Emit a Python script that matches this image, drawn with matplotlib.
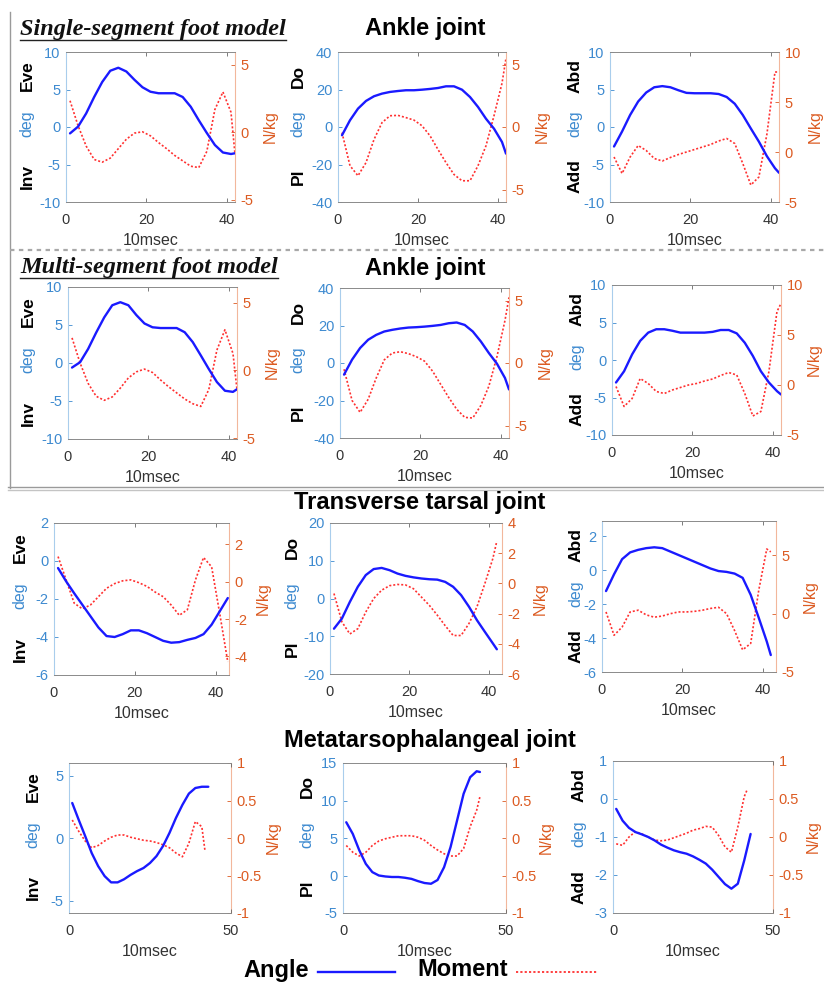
import matplotlib

matplotlib.use("Agg")
import matplotlib.pyplot as plt
from matplotlib.lines import Line2D

plt.rcParams.update(
    {
        "font.family": ["Liberation Sans", "DejaVu Sans"],
        "font.size": 10.5,
        "axes.unicode_minus": False,
    }
)

W, H = 824, 985

# ---- data ----
frames = [1, 3, 5, 7, 9, 11, 13, 15, 17, 19, 21, 23, 25, 27, 29, 31, 33, 35, 37, 39, 41, 42]
frames_43 = [1, 3, 5, 7, 9, 11, 13, 15, 17, 19, 21, 23, 25, 27, 29, 31, 33, 35, 37, 39, 41, 43]

ss_inv_angle = [-0.85, 0.05, 1.8, 4.0, 6.0, 7.5, 7.9, 7.4, 6.3, 5.3, 4.7, 4.5, 4.5, 4.5, 4.0, 2.7, 0.9, -0.8, -2.4, -3.4, -3.6, -3.5]
ss_inv_moment = [2.35, 0.5, -1.0, -2.0, -2.2, -1.9, -1.2, -0.5, -0.05, 0.05, -0.25, -0.75, -1.2, -1.7, -2.1, -2.5, -2.6, -1.4, 1.7, 3.0, 1.5, -1.6]
ss_pf_angle = [-4.4, 3.6, 9.8, 13.9, 16.4, 17.8, 18.7, 19.2, 19.6, 19.6, 19.9, 20.3, 20.8, 21.7, 21.7, 19.9, 16.0, 10.7, 4.4, -0.9, -8.0, -14.2]
ss_pf_moment = [-0.45, -3.1, -3.9, -2.85, -1.0, 0.35, 0.9, 0.93, 0.75, 0.55, 0.1, -0.7, -1.8, -2.85, -3.8, -4.3, -4.3, -3.1, -1.5, 0.9, 3.5, 5.5]
ss_abd_angle = [-2.6, -0.6, 1.6, 3.4, 4.6, 5.3, 5.45, 5.3, 4.9, 4.55, 4.5, 4.5, 4.5, 4.4, 4.0, 3.1, 1.6, -0.2, -1.95, -3.9, -5.5, -6.1]
ss_abd_moment = [-0.5, -2.15, -0.5, 0.65, 0.15, -0.65, -0.9, -0.55, -0.25, 0.0, 0.25, 0.5, 0.75, 1.1, 1.35, 0.85, -1.15, -3.3, -2.5, 1.8, 8.0, 8.0]

ms_inv_angle = [-0.6, 0.1, 1.85, 4.0, 6.0, 7.6, 8.0, 7.6, 6.3, 5.2, 4.7, 4.6, 4.6, 4.6, 4.05, 2.75, 1.0, -0.8, -2.5, -3.65, -3.8, -3.45]
ms_inv_moment = [2.4, 0.55, -0.95, -1.9, -2.2, -1.95, -1.3, -0.55, -0.1, 0.1, -0.15, -0.7, -1.2, -1.65, -2.1, -2.45, -2.65, -1.4, 1.5, 3.0, 1.25, -1.4]
ms_pf_angle = [-6.2, 1.8, 8.0, 12.4, 15.0, 16.8, 17.7, 18.4, 18.9, 19.1, 19.4, 19.8, 20.3, 21.2, 21.6, 20.3, 16.8, 11.5, 5.3, -0.35, -8.0, -14.1]
ms_pf_moment = [-0.5, -3.0, -3.95, -2.9, -1.2, 0.25, 0.8, 0.9, 0.75, 0.5, 0.15, -0.65, -1.7, -2.75, -3.7, -4.35, -4.4, -3.4, -1.85, 0.5, 3.4, 5.25]
ms_abd_angle = [-3.0, -1.5, 0.75, 2.55, 3.65, 4.1, 4.1, 3.9, 3.65, 3.65, 3.65, 3.65, 3.75, 4.0, 4.0, 3.55, 2.3, 0.55, -1.5, -3.0, -4.15, -4.6]
ms_abd_moment = [-0.15, -2.15, -1.35, 0.65, 0.15, -0.65, -0.85, -0.5, -0.25, 0.0, 0.15, 0.4, 0.6, 0.95, 1.25, 1.0, -0.85, -3.1, -2.65, 1.35, 7.35, 8.15]

tt_inv_angle = [-0.37, -1.07, -1.7, -2.3, -2.9, -3.5, -3.95, -4.0, -3.85, -3.65, -3.65, -3.8, -4.0, -4.2, -4.3, -4.27, -4.15, -4.05, -3.85, -3.35, -2.65, -1.95]
tt_inv_moment = [1.35, 0.1, -1.15, -1.45, -1.25, -0.8, -0.35, -0.1, 0.05, 0.1, -0.05, -0.25, -0.55, -0.8, -1.25, -1.8, -1.5, 0.1, 1.3, 0.8, -1.7, -4.3]
tt_pf_angle = [-8.0, -5.3, -0.9, 3.1, 6.2, 7.8, 8.1, 7.5, 6.6, 6.0, 5.6, 5.3, 5.1, 5.0, 4.4, 3.1, 0.9, -2.2, -5.75, -8.85, -11.9, -13.45]
tt_pf_moment = [-0.67, -2.55, -3.35, -3.0, -1.9, -1.0, -0.45, -0.15, -0.07, -0.1, -0.35, -0.9, -1.45, -2.1, -2.8, -3.45, -3.45, -2.65, -1.55, 0.0, 1.65, 2.8]
tt_abd_angle = [-1.23, -0.24, 0.65, 1.05, 1.2, 1.3, 1.35, 1.3, 1.1, 0.9, 0.7, 0.5, 0.3, 0.1, -0.05, -0.1, -0.2, -0.45, -1.45, -2.8, -4.2, -5.0]
tt_abd_moment = [0.15, -1.85, -1.15, 0.15, 0.3, -0.1, -0.3, -0.2, 0.0, 0.15, 0.15, 0.2, 0.3, 0.45, 0.55, 0.0, -1.45, -3.1, -2.55, 2.0, 5.55, 5.3]

mtp_inv_angle = [2.8, 1.45, 0.15, -1.2, -2.25, -3.05, -3.55, -3.55, -3.3, -2.95, -2.65, -2.4, -2.0, -1.45, -0.65, 0.4, 1.6, 2.65, 3.55, 4.0, 4.1, 4.1]
mtp_inv_moment = [0.24, 0.09, -0.04, -0.13, -0.1, -0.04, 0.01, 0.04, 0.04, 0.01, -0.01, -0.03, -0.04, -0.06, -0.09, -0.13, -0.2, -0.25, -0.07, 0.22, 0.15, -0.18]
mtp_pf_angle = [7.1, 5.55, 3.35, 1.55, 0.45, 0.0, -0.13, -0.2, -0.2, -0.3, -0.45, -0.75, -1.0, -1.1, -0.6, 1.1, 3.8, 7.35, 10.9, 13.1, 13.9, 13.8]
mtp_pf_moment = [-0.1, -0.19, -0.24, -0.19, -0.1, -0.04, -0.01, 0.01, 0.03, 0.03, 0.03, 0.01, -0.03, -0.1, -0.16, -0.21, -0.24, -0.24, -0.14, 0.15, 0.37, 0.55]
mtp_abd_angle = [-0.26, -0.57, -0.76, -0.87, -0.93, -1.0, -1.09, -1.2, -1.28, -1.35, -1.4, -1.44, -1.51, -1.6, -1.7, -1.86, -2.05, -2.24, -2.36, -2.23, -1.62, -0.92]
mtp_abd_moment = [-0.09, -0.11, 0.0, 0.07, 0.04, 0.0, -0.04, -0.05, -0.04, -0.01, 0.02, 0.05, 0.09, 0.11, 0.14, 0.13, 0.02, -0.13, -0.2, 0.13, 0.53, 0.63]

# ---- styles ----
BLUE_AX = "#3d8ad0"
BLUE_SPINE = "#a9cdec"
ORANGE_AX = "#dc5b22"
ORANGE_SPINE = "#f2b79c"
ANGLE_C = "#1a1aff"
MOMENT_C = "#ff3030"
MOMENT_LS = (0, (1.2, 1.2))

fig = plt.figure(figsize=(W / 100, H / 100), dpi=100)


def px_rect(left, right, top, bottom):
    return [left / W, 1 - bottom / H, (right - left) / W, (bottom - top) / H]


def fmt(v):
    return f"{v:g}"


def draw_panel(rect, xa, angle, xm, moment, xlim, xticks, ylim, yticks, ylim2, yticks2,
               top_lab, bot_lab, lab_off, r_off):
    ax = fig.add_axes(px_rect(*rect))
    ax2 = ax.twinx()
    ax.plot(xa, angle, color=ANGLE_C, lw=1.7, solid_capstyle="round")
    ax2.plot(xm, moment, color=MOMENT_C, lw=1.2, ls=MOMENT_LS)
    ax.set_zorder(ax2.get_zorder() + 1)
    ax.patch.set_visible(False)

    ax.set_xlim(*xlim)
    ax.set_xticks(xticks)
    ax.set_xticklabels([fmt(v) for v in xticks])
    ax.set_ylim(*ylim)
    ax.set_yticks(yticks)
    ax.set_yticklabels([fmt(v) for v in yticks])
    ax2.set_ylim(*ylim2)
    ax2.set_yticks(yticks2)
    ax2.set_yticklabels([fmt(v) for v in yticks2])

    ax.tick_params(axis="x", direction="in", top=True, length=3, width=0.6,
                   color="#666666", labelcolor="#333333", labelsize=10.5, pad=8)
    ax.tick_params(axis="y", direction="in", length=3, width=0.6, color=BLUE_AX,
                   labelcolor=BLUE_AX, labelsize=10.5, pad=4)
    ax2.tick_params(axis="y", direction="in", length=3, width=0.6, color=ORANGE_AX,
                    labelcolor=ORANGE_AX, labelsize=10.5, pad=4)

    for s in ("top", "bottom"):
        ax.spines[s].set_color("#8a8a8a")
        ax.spines[s].set_linewidth(0.7)
    ax.spines["left"].set_color(BLUE_SPINE)
    ax.spines["right"].set_visible(False)
    for s in ("left", "top", "bottom"):
        ax2.spines[s].set_visible(False)
    ax2.spines["right"].set_color(ORANGE_SPINE)

    ax.set_xlabel("10msec", fontsize=11.5, color="#333333", labelpad=4)

    for text, frac, kw in (
        (top_lab, 0.84, dict(fontweight="bold", fontsize=12.5, color="black")),
        ("deg", 0.52, dict(fontsize=11.5, color=BLUE_AX)),
        (bot_lab, 0.17, dict(fontweight="bold", fontsize=12.5, color="black")),
    ):
        ax.annotate(text, xy=(0, frac), xycoords="axes fraction", xytext=(-lab_off, 0),
                    textcoords="offset pixels", rotation=90, ha="center", va="center", **kw)
    ax2.annotate("N/kg", xy=(1, 0.5), xycoords="axes fraction", xytext=(r_off, 0),
                 textcoords="offset pixels", rotation=90, ha="center", va="center",
                 fontsize=11.5, color=ORANGE_AX)
    return ax


X1 = (0, 42)
X3 = (0, 43.3)
X4 = (0, 50)
T1 = [0, 20, 40]
T4 = [0, 50]

# row 1: single-segment model, ankle
draw_panel((66, 235, 52, 202), frames, ss_inv_angle, frames, ss_inv_moment, X1, T1,
           (-10, 10), [-10, -5, 0, 5, 10], (-5.15, 5.96), [-5, 0, 5], "Eve", "Inv", 39, 35)
draw_panel((338, 506, 52, 202), frames, ss_pf_angle, frames, ss_pf_moment, X1, T1,
           (-40, 40), [-40, -20, 0, 20, 40], (-6, 6), [-5, 0, 5], "Do", "Pl", 40, 36)
draw_panel((610, 779, 52, 202), frames, ss_abd_angle, frames, ss_abd_moment, X1, T1,
           (-10, 10), [-10, -5, 0, 5, 10], (-5, 10), [-5, 0, 5, 10], "Abd", "Add", 35, 36)

# row 2: multi-segment model, ankle
draw_panel((68, 237, 287, 439), frames, ms_inv_angle, frames, ms_inv_moment, X1, T1,
           (-10, 10), [-10, -5, 0, 5, 10], (-5.05, 6.15), [-5, 0, 5], "Eve", "Inv", 40, 35)
draw_panel((340, 509, 288, 438), frames, ms_pf_angle, frames, ms_pf_moment, X1, T1,
           (-40, 40), [-40, -20, 0, 20, 40], (-6, 6), [-5, 0, 5], "Do", "Pl", 42, 36)
draw_panel((612, 781, 285, 435), frames, ms_abd_angle, frames, ms_abd_moment, X1, T1,
           (-10, 10), [-10, -5, 0, 5, 10], (-5, 10), [-5, 0, 5, 10], "Abd", "Add", 35, 33)

# row 3: transverse tarsal joint
draw_panel((54, 229, 523, 675), frames_43, tt_inv_angle, frames_43, tt_inv_moment, X3, T1,
           (-6, 2), [-6, -4, -2, 0, 2], (-5, 3.15), [-4, -2, 0, 2], "Eve", "Inv", 34, 34)
draw_panel((330, 502, 523, 674), frames, tt_pf_angle, frames, tt_pf_moment, X3, T1,
           (-20, 20), [-20, -10, 0, 10, 20], (-6, 4), [-6, -4, -2, 0, 2, 4], "Do", "Pl", 38, 38)
draw_panel((602, 776, 521, 672), frames, tt_abd_angle, frames, tt_abd_moment, X3, T1,
           (-6, 2.9), [-6, -4, -2, 0, 2], (-5, 7.95), [-5, 0, 5], "Abd", "Add", 26, 34)

# row 4: metatarsophalangeal joint
draw_panel((69, 231, 763, 913), frames_43, mtp_inv_angle, frames, mtp_inv_moment, X4, T4,
           (-6, 6), [-5, 0, 5], (-1, 1), [-1, -0.5, 0, 0.5, 1], "Eve", "Inv", 36, 42)
draw_panel((343, 506, 763, 913), frames, mtp_pf_angle, frames, mtp_pf_moment, X4, T4,
           (-5, 15), [-5, 0, 5, 10, 15], (-1, 1), [-1, -0.5, 0, 0.5, 1], "Do", "Pl", 36, 40)
draw_panel((613, 773, 761, 913), frames_43, mtp_abd_angle, frames, mtp_abd_moment, X4, T4,
           (-3, 1), [-3, -2, -1, 0, 1], (-1, 1), [-1, -0.5, 0, 0.5, 1], "Abd", "Add", 34, 40)


def ftext(x, y, s, **kw):
    return fig.text(x / W, 1 - y / H, s, **kw)


title_kw = dict(fontsize=17, fontweight="bold", ha="center", va="center", color="black")
ftext(425, 29, "Ankle joint", **title_kw)
ftext(425, 268, "Ankle joint", **title_kw)
ftext(420, 503, "Transverse tarsal joint", **title_kw)
ftext(430, 741, "Metatarsophalangeal joint", **title_kw)

model_kw = dict(fontsize=17.5, fontweight="bold", fontstyle="italic",
                family=["Liberation Serif", "DejaVu Serif"], ha="left", va="center",
                color="#111111")
models = [ftext(20, 30, "Single-segment foot model", **model_kw),
          ftext(20, 268, "Multi-segment foot model", **model_kw)]

# legend
ftext(243, 970, "Angle", fontsize=17, fontweight="bold", ha="left", va="center")
ftext(417, 970, "Moment", fontsize=17, fontweight="bold", ha="left", va="center")
fig.add_artist(Line2D([318 / W, 395 / W], [1 - 972 / H] * 2, transform=fig.transFigure,
                      color=ANGLE_C, lw=1.7))
fig.add_artist(Line2D([516 / W, 597 / W], [1 - 972 / H] * 2, transform=fig.transFigure,
                      color=MOMENT_C, lw=1.3, ls=MOMENT_LS))

# frame around the foot-model comparison
fig.add_artist(Line2D([10 / W, 10 / W], [1 - 12 / H, 1 - 488 / H], transform=fig.transFigure,
                      color="#9a9a9a", lw=1.0))
fig.add_artist(Line2D([10 / W, 1], [1 - 250 / H] * 2, transform=fig.transFigure,
                      color="#a8a8a8", lw=1.6, ls=(0, (2, 2))))
fig.add_artist(Line2D([8 / W, 1], [1 - 487 / H] * 2, transform=fig.transFigure,
                      color="#9a9a9a", lw=1.0))
fig.add_artist(Line2D([8 / W, 1], [1 - 490 / H] * 2, transform=fig.transFigure,
                      color="#c4c4c4", lw=1.0))

# underline the model headings
fig.canvas.draw()
renderer = fig.canvas.get_renderer()
for t in models:
    bb = t.get_window_extent(renderer)
    fig.add_artist(Line2D([bb.x0 / W, bb.x1 / W], [(bb.y0 + 1) / H] * 2,
                          transform=fig.transFigure, color="#222222", lw=1.0))

fig.savefig("out.png", dpi=100)
